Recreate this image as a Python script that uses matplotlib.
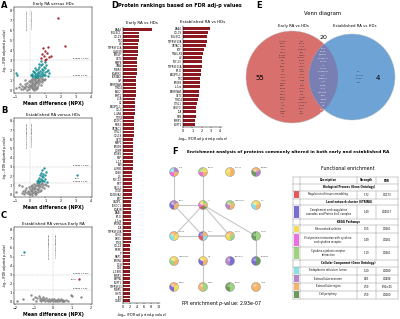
import numpy as np
import matplotlib.pyplot as plt
from matplotlib.patches import Circle, Wedge, Rectangle

# ---------------- data ----------------
grey_a = [(-0.95, 0.2), (-0.75, 0.35), (-0.6, 0.15), (-0.5, 0.45), (-0.45, 0.1), (-0.4, 0.3), (-0.35, 0.6),
          (-0.3, 0.2), (-0.25, 0.45), (-0.2, 0.05), (-0.2, 0.75), (-0.15, 0.3), (-0.1, 0.9), (-0.1, 0.5),
          (-0.05, 0.15), (0.0, 0.8), (0.0, 0.35), (0.05, 1.0), (0.05, 0.55), (0.1, 0.25), (0.1, 0.7),
          (0.12, 1.1), (0.15, 0.5), (0.15, 0.9), (0.2, 0.3), (0.2, 0.75), (0.22, 1.2), (0.25, 0.55),
          (0.25, 1.0), (0.3, 0.2), (0.3, 0.85), (0.32, 1.15), (0.35, 0.6), (0.35, 0.4), (0.4, 0.95),
          (0.4, 0.7), (0.42, 1.2), (0.45, 0.35), (0.45, 0.8), (0.5, 1.05), (0.5, 0.55), (0.55, 0.9),
          (0.55, 1.2), (0.6, 0.7), (0.6, 1.1), (0.65, 0.95), (0.7, 0.5), (0.7, 1.2), (0.75, 1.05),
          (0.8, 0.8), (0.85, 1.15), (0.9, 1.0), (1.0, 1.1), (-0.65, 0.6), (-0.3, 1.05), (0.18, 0.1),
          (0.28, 0.05), (0.38, 0.15), (0.48, 0.25), (0.08, 0.45)]
teal_a = [(-0.95, 1.75), (-0.85, 1.55), (0.1, 1.4), (0.15, 1.6), (0.2, 1.45), (0.25, 1.8), (0.3, 1.5),
          (0.3, 1.35), (0.35, 1.7), (0.4, 1.45), (0.4, 2.0), (0.45, 1.6), (0.5, 1.4), (0.5, 1.85),
          (0.55, 2.1), (0.55, 1.55), (0.6, 1.7), (0.6, 2.3), (0.65, 1.45), (0.65, 1.95), (0.7, 2.5),
          (0.7, 1.6), (0.75, 2.15), (0.75, 1.8), (0.8, 1.4), (0.8, 2.6), (0.85, 2.0), (0.85, 1.65),
          (0.9, 2.35), (0.9, 1.5), (0.95, 2.8), (0.95, 1.85), (1.0, 2.2), (1.0, 1.55), (1.05, 2.55),
          (1.1, 1.9), (1.15, 1.45), (1.2, 2.05), (0.45, 1.35), (0.35, 2.2), (0.58, 2.6), (0.72, 2.9),
          (1.25, 1.7), (0.2, 1.95), (0.05, 1.5)]
red_a = [(1.85, 7.25), (2.3, 4.45), (0.7, 3.2), (0.78, 3.6), (0.85, 4.2), (0.9, 3.4), (1.0, 3.9),
         (1.05, 3.15), (1.1, 3.7), (1.2, 4.3), (1.25, 3.3), (1.4, 3.45), (0.95, 3.05)]

grey_b = [(-0.95, 0.25), (-0.75, 1.0), (-0.55, 0.9), (-0.5, 0.2), (-0.45, 0.4), (-0.4, 0.1), (-0.35, 0.55),
          (-0.3, 0.3), (-0.25, 0.7), (-0.2, 0.15), (-0.15, 0.45), (-0.1, 0.8), (-0.05, 0.3), (0.0, 0.6),
          (0.0, 0.1), (0.05, 0.95), (0.05, 0.4), (0.1, 0.2), (0.1, 0.7), (0.15, 1.1), (0.15, 0.5),
          (0.2, 0.85), (0.2, 0.3), (0.25, 0.6), (0.25, 1.2), (0.3, 0.15), (0.3, 0.95), (0.35, 0.45),
          (0.35, 0.75), (0.4, 1.1), (0.4, 0.3), (0.45, 0.65), (0.45, 1.25), (0.5, 0.9), (0.5, 0.5),
          (0.55, 1.05), (0.55, 0.25), (0.6, 0.75), (0.6, 1.2), (0.65, 0.95), (0.7, 0.55), (0.7, 1.15),
          (0.75, 0.85), (0.8, 1.25), (0.85, 1.0), (0.9, 0.7), (0.95, 1.2), (1.05, 1.0), (1.15, 0.9),
          (0.32, 0.05), (0.12, 0.02), (-0.08, 0.05), (0.42, 0.12), (0.62, 0.35)]
teal_b = [(0.5, 1.4), (0.55, 1.6), (0.6, 1.35), (0.6, 1.85), (0.65, 1.5), (0.65, 2.1), (0.7, 1.7),
          (0.7, 2.4), (0.75, 1.45), (0.75, 2.0), (0.8, 1.6), (0.8, 2.65), (0.85, 1.9), (0.85, 2.25),
          (0.9, 1.5), (0.9, 2.85), (0.95, 2.1), (1.0, 1.7), (1.05, 2.5), (1.1, 1.4), (0.45, 1.45),
          (3.1, 2.1)]
red_b = []

grey_c = [(-1.9, 0.05), (-1.6, 0.3), (-1.15, 0.75), (-1.05, 0.3), (-0.9, 0.1), (-0.85, 0.4), (-0.75, 0.65),
          (-0.7, 0.2), (-0.65, 0.05), (-0.6, 0.35), (-0.55, 0.5), (-0.5, 0.15), (-0.45, 0.25), (-0.4, 0.05),
          (-0.35, 0.4), (-0.3, 0.2), (-0.25, 0.1), (-0.2, 0.3), (-0.15, 0.05), (-0.1, 0.15), (-0.05, 0.35),
          (0.0, 0.1), (0.05, 0.25), (0.1, 0.05), (0.15, 0.2), (0.2, 0.1), (0.25, 0.3), (0.3, 0.05),
          (0.35, 0.15), (0.4, 0.25), (0.45, 0.1), (0.5, 0.05), (0.55, 0.2), (0.6, 0.1), (0.7, 0.15),
          (0.8, 0.05), (0.95, 0.8), (1.0, 0.6), (1.45, 0.5), (-0.95, 0.55), (-0.7, 0.45)]
teal_c = [(-1.55, 5.5)]
red_c = [(1.35, 2.5)]

early_names = ["SAA4", "SIGLEC1", "CCL19", "TNC", "IL6", "TNFRSF11A", "LGALS9", "PRELP", "CST3", "MMP8",
               "CPA4", "FKBP4", "SCARF2", "PLXNB2", "GIP", "SERPINA5", "TIMD4", "ACE2", "SIRT2", "IL18",
               "C2", "ANGPTL3", "CCL3", "IL-4RA", "TGM2", "PDGFC", "NOS3", "CRTAC1", "CTSL1", "COL18",
               "CST7", "MMP1", "PRSS8", "COMP", "PCSK9", "NEP", "IL-17", "FAS", "LILRB1", "CD48",
               "IL5", "FGF-23", "MET", "CXCL1", "CTSD", "SCGB3A2", "BOC", "CNDP1", "PLXDC1", "EDA2R",
               "SAA1", "SP-D", "IL-1ra", "SPON1", "LTA", "TNFRSF10A", "CDH5", "DKK1", "PTX3", "CCL24",
               "MEPE", "TF", "NRP1", "SPON2", "DCN", "CD6", "IL-18R1", "SFRP1", "PAPPA", "SORT1",
               "TNFRSF21", "FKBP5", "CHIT1", "PLC", "CD40"]
early_vals = [8.2, 4.5, 4.45, 4.4, 4.3, 4.25, 4.2, 4.15, 4.1, 4.0,
              3.95, 3.9, 3.85, 3.8, 3.75, 3.7, 3.65, 3.6, 3.55, 3.5,
              3.45, 3.4, 3.35, 3.3, 3.25, 3.2, 3.15, 3.1, 3.05, 3.0,
              2.95, 2.9, 2.9, 2.85, 2.8, 2.8, 2.75, 2.7, 2.7, 2.65,
              2.6, 2.6, 2.55, 2.5, 2.5, 2.45, 2.45, 2.4, 2.4, 2.35,
              2.35, 2.3, 2.3, 2.25, 2.25, 2.2, 2.2, 2.15, 2.15, 2.1,
              2.1, 2.1, 2.05, 2.05, 2.0, 2.0, 2.0, 1.95, 1.95, 1.95,
              1.9, 1.9, 1.9, 1.85, 1.85]
est_names = ["SAA4", "CCL19", "SIGLEC1", "TNFRSF10A", "CRTAC1", "PGF", "TRAIL-R2", "IL6", "FGF-23",
             "TNFRSF11A", "SP-D", "ANGPTL3", "TNC", "PRSS8", "IL-1ra", "SERPINA5", "CST3", "TIMD4",
             "CTSL1", "VEGFD", "LTA", "REN", "SFRP1", "SORT1"]
est_vals = [2.9, 2.65, 2.6, 2.6, 2.45, 2.3, 2.2, 2.07, 2.05, 2.0, 1.95, 1.9, 1.85, 1.85, 1.8, 1.75,
            1.67, 1.6, 1.53, 1.4, 1.38, 1.35, 1.33, 1.27]

net_names = ["SP-D", "CCL19", "CRTAC1", "SIGLEC1", "SAA4", "IL6", "TNFRSF11A", "TNC", "FGF-23", "CST3",
             "CTSL1", "SORT1", "TNFRSF10A", "LTA", "SERPINA5", "ANGPTL3", "TIMD4", "SFRP1", "PRSS8", "IL-1ra"]
net_edges = [(0, 4), (1, 5), (4, 5), (5, 8), (5, 9), (5, 10), (5, 11), (4, 9), (8, 9), (9, 10),
             (9, 13), (11, 15), (13, 17)]
net_pies = [["mag", "cya", "pur", "ora"], ["mag", "grn", "yel", "ora"], ["yel", "ora"], ["dgr", "ora", "pur"],
            ["blu", "pur", "ora"], ["red", "mag", "yel", "grn", "ora", "dgr"], ["pur", "grn", "ora"],
            ["cya", "yel", "ora"], ["cya", "ora", "yel"], ["red", "blu", "ora", "cya"], ["yel", "ora", "grn"],
            ["dgr", "grn"], ["grn", "yel", "ora"], ["blu", "yel", "ora"], ["pur", "blu"], ["blu", "dgr"],
            ["blu", "ora", "yel"], ["ora", "grn"], ["dgr", "grn"], ["ora"]]

enr_sections = ["Biological Process (Gene Ontology)", "Local network cluster (STRING)",
                "KEGG Pathways", "Cellular Component (Gene Ontology)"]
enr_section_of = [0, 1, 2, 2, 2, 3, 3, 3, 3]
enr_desc = ["Regulation of tissue remodeling",
            "Complement and coagulation\ncascades, and Protein kinC complex",
            "Rheumatoid arthritis",
            "Viral protein interaction with cytokine\nand cytokine receptor",
            "Cytokine-cytokine receptor\ninteraction",
            "Endoplasmic reticulum lumen",
            "Extracellular exosome",
            "Extracellular region",
            "Cell periphery"]
enr_strength = ["1.72", "1.49", "1.55", "1.49", "1.19", "1.20", "0.63", "0.59", "0.59"]
enr_fdr = ["0.0173", "0.00017", "0.0261", "0.0261", "0.0261", "0.0080", "0.0408", "6.91e-05", "0.0260"]
enr_color = ["red", "blu", "yel", "mag", "grn", "cya", "pur", "ora", "dgr"]

palette = {"red": "#e4575b", "blu": "#7a6fd1", "yel": "#f2dc5d", "mag": "#ec6fe0", "grn": "#9fd47f",
           "cya": "#8be0e6", "pur": "#b685c7", "ora": "#f4b46a", "dgr": "#6c9a5e"}

W, H = 400, 319
fig = plt.figure(figsize=(4, 3.19), dpi=100)


def px_axes(x0, y0, x1, y1):
    return fig.add_axes([x0 / W, 1 - y1 / H, (x1 - x0) / W, (y1 - y0) / H])


def volcano(ax, grey, teal, red, xlim, xticks, title, lab_x, lab_y, who):
    for pts, col, ec in [(grey, "#8e8e8e", "#6e6e6e"), (teal, "#1d9ca4", "#13757b"), (red, "#b3262d", "#7d1a1f")]:
        if pts:
            xs, ys = zip(*pts)
            ax.scatter(xs, ys, s=2.0, c=col, edgecolors=ec, linewidths=0.2, zorder=3)
    ax.axhline(3, color="#c4c4c4", lw=0.35, ls="--", zorder=1)
    ax.axhline(1.3, color="#c4c4c4", lw=0.35, ls="--", zorder=1)
    ax.axvline(0, color="#a0a0a0", lw=0.35, ls=":", zorder=1)
    ax.text(lab_x, 3.12, "p-value < 0.001", fontsize=1.4, ha="center", va="bottom")
    ax.text(lab_x, 1.42, "p-value < 0.05", fontsize=1.4, ha="center", va="bottom")
    ax.text(-0.18, lab_y, "Decreased in " + who, fontsize=1.3, rotation=90, ha="center", va="top")
    ax.text(0.18, lab_y, "Increased in " + who, fontsize=1.3, rotation=90, ha="center", va="top")
    ax.set_xlim(*xlim)
    ax.set_ylim(-0.25, 8.3)
    ax.set_xticks(xticks)
    ax.set_yticks(range(0, 9))
    ax.tick_params(labelsize=2.4, length=1, width=0.3, pad=0.6)
    for s in ax.spines.values():
        s.set_linewidth(0.35)
    ax.set_title(title, fontsize=2.9, pad=1.5)
    ax.set_xlabel("Mean difference (NPX)", fontsize=3.4, fontweight="bold", labelpad=1)
    ax.set_ylabel("-log$_{10}$ (FDR adjusted p-value)", fontsize=2.2, labelpad=0.6)


axA = px_axes(14, 7, 92, 93)
volcano(axA, grey_a, teal_a, red_a, (-1.05, 4.05), range(-1, 5), "Early RA versus HDs", 3.3, 8.0, "early RA")
axB = px_axes(14, 118, 92, 197)
volcano(axB, grey_b, teal_b, red_b, (-1.05, 4.05), range(-1, 5), "Established RA versus HDs", 3.3, 7.8,
        "established RA")
axB.text(3.1, 1.85, "SAA4", fontsize=1.3, ha="center", va="top")
axC = px_axes(14, 227, 92, 304)
volcano(axC, grey_c, teal_c, red_c, (-2.05, 2.05), range(-2, 3), "Established RA versus Early RA", 1.45, 7.6,
        "established RA")
axC.text(-1.55, 5.25, "SAA4", fontsize=1.3, ha="center", va="top")
axC.text(1.22, 2.5, "CCL19", fontsize=1.3, ha="right", va="center")

# ---------------- D: bar rankings ----------------
bar_col = "#8b1a20"
for ax, names, vals, xmax, ticks, title in [
        (px_axes(123, 27, 160, 303), early_names, early_vals, 10.5, range(0, 11, 2), "Early RA vs HDs"),
        (px_axes(183, 26, 222, 127), est_names, est_vals, 4.2, range(0, 5), "Established RA vs HDs")]:
    n = len(names)
    ax.barh(range(n), vals, height=0.72, color=bar_col, edgecolor="none")
    ax.set_yticks(range(n))
    ax.set_yticklabels(names, fontsize=1.8)
    ax.set_ylim(n - 0.4, -0.6)
    ax.set_xlim(0, xmax)
    ax.set_xticks(list(ticks))
    ax.tick_params(axis="x", labelsize=2.4, length=1, width=0.3, pad=0.8)
    ax.tick_params(axis="y", length=0, pad=0.8)
    for s in ["top", "right"]:
        ax.spines[s].set_visible(False)
    for s in ["left", "bottom"]:
        ax.spines[s].set_linewidth(0.35)
    ax.set_title(title, fontsize=2.9, pad=2.5)
    ax.set_xlabel("-log$_{10}$ (FDR adjusted-p value)", fontsize=2.4, labelpad=1)

# ---------------- overlay (letters, Venn, network, table) ----------------
ov = fig.add_axes([0, 0, 1, 1])
ov.set_xlim(0, W)
ov.set_ylim(H, 0)
ov.axis("off")

for lx, ly, letter in [(1, 1, "A"), (1, 106, "B"), (1, 211, "C"), (111, 1, "D"), (256, 1, "E"), (172, 147, "F")]:
    ov.text(lx, ly, letter, fontsize=6, fontweight="bold", va="top", ha="left")

ov.text(118, 6, "Protein rankings based on FDR adj-p values", fontsize=3.6, fontweight="bold",
        ha="left", va="center")

# Venn
overlap = [p for p in est_names if p in early_names]
early_only = [p for p in early_names if p not in est_names]
est_only = [p for p in est_names if p not in early_names]

red_c_patch = Circle((292, 77), 46, fc="#d8716e", ec="#bdbdbd", lw=0.3)
blue_c_patch = Circle((352, 77), 43, fc="#6ea3d6", ec="#bdbdbd", lw=0.3)
ov.add_patch(red_c_patch)
ov.add_patch(blue_c_patch)
inter = Circle((292, 77), 46, fc="#7a7fb3", ec="none")
ov.add_patch(inter)
inter.set_clip_path(blue_c_patch)
ov.text(323, 13, "Venn diagram", fontsize=3.8, ha="center", va="center")
ov.text(293, 26, "Early RA vs HDs", fontsize=2.8, ha="center", va="center")
ov.text(355, 26, "Established RA vs HDs", fontsize=2.8, ha="center", va="center")
ov.text(323, 37.5, str(len(overlap)), fontsize=4.5, ha="center", va="center")
ov.text(260, 78, str(len(early_only)), fontsize=5, ha="center", va="center")
ov.text(378, 78, str(len(est_only)), fontsize=5, ha="center", va="center")
half = (len(early_only) + 1) // 2
for col_x, names in [(283, early_only[:half]), (302, early_only[half:])]:
    for i, nm in enumerate(names):
        ov.text(col_x, 41 + i * 2.8, nm, fontsize=1.4, ha="center", va="center", color="#2a2a2a")
for i, nm in enumerate(overlap):
    ov.text(323, 48 + i * 3.4, nm, fontsize=1.4, ha="center", va="center", color="white")
for i, nm in enumerate(est_only):
    ov.text(359, 72 + i * 3.4, nm, fontsize=1.4, ha="center", va="center", color="#1f2d4a")

# F title
ov.text(187, 152, "Enrichment analysis of proteins commonly altered in both early and established RA",
        fontsize=3.1, fontweight="bold", ha="left", va="center")

# network
col_x = [174, 203, 230, 256]
row_y = [172, 205, 236, 261, 287]
node_xy = [(col_x[i % 4], row_y[i // 4]) for i in range(len(net_names))]
for a, b in net_edges:
    lw = 1.2 if (a, b) == (9, 10) else 0.8
    ov.plot([node_xy[a][0], node_xy[b][0]], [node_xy[a][1], node_xy[b][1]], color="#c6c6c6", lw=lw, zorder=1)
r = 4.5
for (x, y), pie, nm in zip(node_xy, net_pies, net_names):
    step = 360 / len(pie)
    for k, key in enumerate(pie):
        ov.add_patch(Wedge((x, y), r, 90 + k * step, 90 + (k + 1) * step, fc=palette[key], ec="none", zorder=2))
    ov.add_patch(Circle((x, y), r, fc="none", ec="#8a8a8a", lw=0.3, zorder=3))
    ov.add_patch(Circle((x - 1.2, y - 1.3), 1.6, fc="white", ec="none", alpha=0.35, zorder=3))
    ov.text(x + 4.5, y - 4.3, nm, fontsize=1.3, ha="left", va="center", color="#333333")

ov.text(222, 303, "PPI enrichment $p$-value: 2.93e-07", fontsize=3.4, ha="center", va="center")

# table
ov.text(348, 169, "Functional enrichment", fontsize=3.4, ha="center", va="center")
tx0, txa, txb, txc, tx1 = 293, 299.5, 357, 376, 398
lc = "#9a9a9a"
y = 177.0


def hl(yy):
    ov.plot([tx0, tx1], [yy, yy], color=lc, lw=0.35)


def vl(xs, ya, yb):
    for xx in xs:
        ov.plot([xx, xx], [ya, yb], color=lc, lw=0.35)


hl(y)
vl([tx0, txa, txb, txc, tx1], y, y + 7)
ov.text((txa + txb) / 2, y + 3.5, "Description", fontsize=1.9, fontweight="bold", ha="center", va="center")
ov.text((txb + txc) / 2, y + 3.5, "Strength", fontsize=1.9, fontweight="bold", ha="center", va="center")
ov.text((txc + tx1) / 2, y + 3.5, "FDR", fontsize=1.9, fontweight="bold", ha="center", va="center")
y += 7
for si, sec in enumerate(enr_sections):
    hl(y)
    vl([tx0, txa, tx1], y, y + 6.5)
    ov.text((txa + tx1) / 2, y + 3.25, sec, fontsize=1.9, fontweight="bold", ha="center", va="center")
    y += 6.5
    for i in [j for j, s in enumerate(enr_section_of) if s == si]:
        h = 13.5 if "\n" in enr_desc[i] else 8
        hl(y)
        vl([tx0, txa, txb, txc, tx1], y, y + h)
        ov.add_patch(Rectangle((tx0 + 0.8, y + 0.8), txa - tx0 - 1.6, h - 1.6, fc=palette[enr_color[i]], ec="none"))
        ov.text((txa + txb) / 2, y + h / 2, enr_desc[i], fontsize=1.8, ha="center", va="center", linespacing=1.1)
        ov.text((txb + txc) / 2, y + h / 2, enr_strength[i], fontsize=1.8, ha="center", va="center")
        ov.text((txc + tx1) / 2, y + h / 2, enr_fdr[i], fontsize=1.8, ha="center", va="center")
        y += h
hl(y)

fig.savefig("out.png", dpi=100)
